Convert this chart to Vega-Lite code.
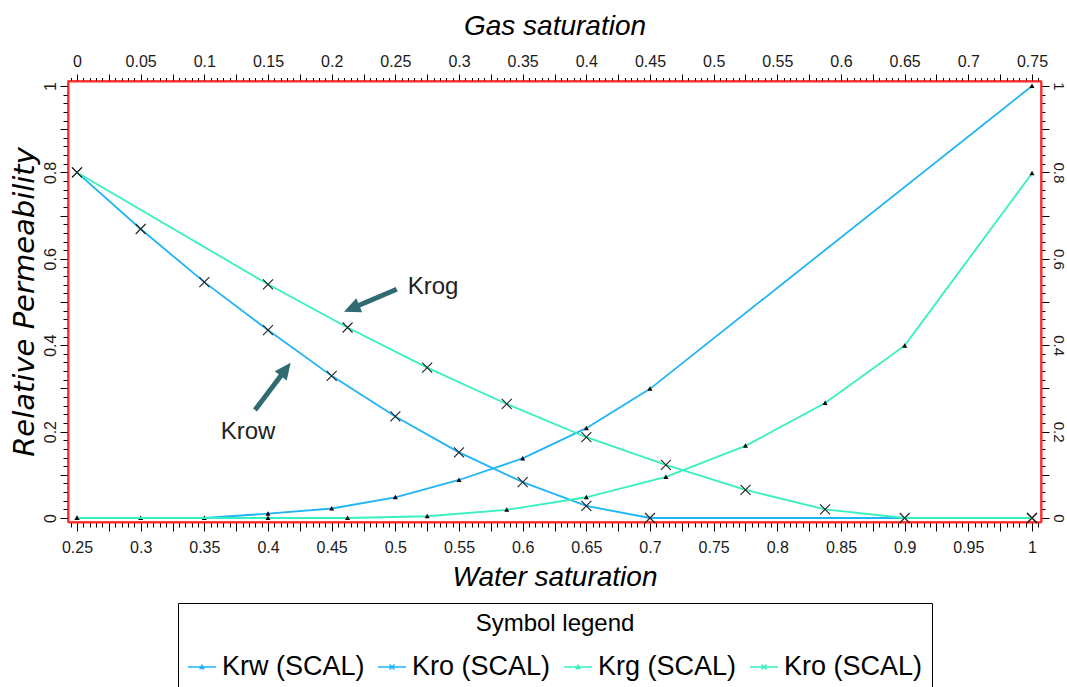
{
  "$schema": "https://vega.github.io/schema/vega-lite/v6.json",
  "width": 973,
  "height": 441,
  "autosize": {"type": "none"},
  "padding": {"left": 68, "top": 81, "right": 26, "bottom": 165},
  "background": "white",
  "config": {
    "view": {"stroke": "#ff2a2a", "strokeWidth": 1.5},
    "axis": {"grid": false, "tickColor": "black", "tickWidth": 1, "domainColor": "#ff2a2a", "domainWidth": 2, "labelColor": "#1a1a1a", "labelOverlap": false, "labelBound": false, "labelFlush": false, "titleColor": "black", "titleFontWeight": "normal", "labelFont": "Liberation Sans, Arial, sans-serif"},
    "legend": {"labelFont": "Liberation Sans, Arial, sans-serif", "titleFont": "Liberation Sans, Arial, sans-serif"}
  },
  "datasets": {
    "water": [
      {"series": "Krw", "sw": 0.25, "kr": 0},
      {"series": "Krw", "sw": 0.3, "kr": 0},
      {"series": "Krw", "sw": 0.35, "kr": 0},
      {"series": "Krw", "sw": 0.4, "kr": 0.01},
      {"series": "Krw", "sw": 0.45, "kr": 0.022},
      {"series": "Krw", "sw": 0.5, "kr": 0.048},
      {"series": "Krw", "sw": 0.55, "kr": 0.088},
      {"series": "Krw", "sw": 0.6, "kr": 0.138},
      {"series": "Krw", "sw": 0.65, "kr": 0.208},
      {"series": "Krw", "sw": 0.7, "kr": 0.299},
      {"series": "Krw", "sw": 1.0, "kr": 1.0},
      {"series": "Kro_w", "sw": 0.25, "kr": 0.8},
      {"series": "Kro_w", "sw": 0.3, "kr": 0.669},
      {"series": "Kro_w", "sw": 0.35, "kr": 0.546},
      {"series": "Kro_w", "sw": 0.4, "kr": 0.435},
      {"series": "Kro_w", "sw": 0.45, "kr": 0.329},
      {"series": "Kro_w", "sw": 0.5, "kr": 0.235},
      {"series": "Kro_w", "sw": 0.55, "kr": 0.152},
      {"series": "Kro_w", "sw": 0.6, "kr": 0.083},
      {"series": "Kro_w", "sw": 0.65, "kr": 0.028},
      {"series": "Kro_w", "sw": 0.7, "kr": 0},
      {"series": "Kro_w", "sw": 1.0, "kr": 0}
    ],
    "gas": [
      {"series": "Krg", "sg": 0, "kr": 0},
      {"series": "Krg", "sg": 0.15, "kr": 0},
      {"series": "Krg", "sg": 0.2125, "kr": 0},
      {"series": "Krg", "sg": 0.275, "kr": 0.004},
      {"series": "Krg", "sg": 0.3375, "kr": 0.019},
      {"series": "Krg", "sg": 0.4, "kr": 0.048},
      {"series": "Krg", "sg": 0.4625, "kr": 0.095},
      {"series": "Krg", "sg": 0.525, "kr": 0.167},
      {"series": "Krg", "sg": 0.5875, "kr": 0.266},
      {"series": "Krg", "sg": 0.65, "kr": 0.399},
      {"series": "Krg", "sg": 0.75, "kr": 0.798},
      {"series": "Kro_g", "sg": 0, "kr": 0.8},
      {"series": "Kro_g", "sg": 0.15, "kr": 0.541},
      {"series": "Kro_g", "sg": 0.2125, "kr": 0.441},
      {"series": "Kro_g", "sg": 0.275, "kr": 0.348},
      {"series": "Kro_g", "sg": 0.3375, "kr": 0.264},
      {"series": "Kro_g", "sg": 0.4, "kr": 0.187},
      {"series": "Kro_g", "sg": 0.4625, "kr": 0.123},
      {"series": "Kro_g", "sg": 0.525, "kr": 0.065},
      {"series": "Kro_g", "sg": 0.5875, "kr": 0.02},
      {"series": "Kro_g", "sg": 0.65, "kr": 0},
      {"series": "Kro_g", "sg": 0.75, "kr": 0}
    ],
    "notes": [
      {"label": "Krog", "sw": 0.5296, "kr": 0.5347},
      {"label": "Krow", "sw": 0.3843, "kr": 0.199}
    ],
    "arrows": [
      {"name": "Krog", "sw": 0.5011, "kr": 0.5294, "sw2": 0.4669, "kr2": 0.4866},
      {"name": "Krow", "sw": 0.3898, "kr": 0.25, "sw2": 0.4131, "kr2": 0.341}
    ],
    "heads": [
      {"name": "Krog", "sw": 0.4597, "kr": 0.4775},
      {"name": "Krow", "sw": 0.4178, "kr": 0.3595}
    ]
  },
  "resolve": {"scale": {"x": "independent"}, "axis": {"x": "independent", "y": "independent"}},
  "layer": [
    {
      "encoding": {
        "x": {"field": "sw", "type": "quantitative",
          "scale": {"domain": [0.24293, 1.00707], "nice": false, "zero": false},
          "axis": {"orient": "bottom", "tickCount": 150,
            "labelExpr": "round(datum.value*1000) % 50 === 0 ? format(datum.value, '~g') : ''",
            "tickSize": {"condition": {"test": "round(datum.value*1000) % 25 === 0", "value": 9}, "value": 5},
            "labelFontSize": 16, "labelPadding": 8,
            "title": "Water saturation", "titleFont": "Liberation Sans", "titleFontSize": 28, "titleFontStyle": "italic", "titlePadding": 8}},
        "y": {"field": "kr", "type": "quantitative",
          "scale": {"domain": [-0.00926, 1.0116], "nice": false, "zero": false},
          "axis": {"orient": "left", "tickCount": 50,
            "labelExpr": "round(datum.value*100) % 20 === 0 ? format(datum.value, '~g') : ''",
            "tickSize": {"condition": {"test": "round(datum.value*100) % 10 === 0", "value": 8}, "value": 5},
            "labelAngle": -90, "labelAlign": "center", "labelBaseline": "bottom",
            "labelFontSize": 16, "labelPadding": 2,
            "title": "Relative Permeability", "titleFont": "DejaVu Sans", "titleFontSize": 29, "titleFontStyle": "italic", "titlePadding": 3}}
      },
      "layer": [
        {"data": {"name": "water"},
          "mark": {"type": "line", "strokeWidth": 1.8, "color": "#1fb3f7"},
          "encoding": {"detail": {"field": "series", "type": "nominal"}}},
        {"data": {"name": "water"},
          "transform": [{"filter": "datum.series === 'Krw'"}],
          "mark": {"type": "point", "shape": "M0,-1L1,0.8L-1,0.8Z", "filled": true, "color": "black", "size": 25, "opacity": 1}},
        {"data": {"name": "water"},
          "transform": [{"filter": "datum.series === 'Kro_w'"}],
          "mark": {"type": "point", "shape": "M-1,-1L1,1M-1,1L1,-1", "filled": false, "color": "#222222", "strokeWidth": 1.1, "size": 100, "opacity": 1}},
        {"data": {"name": "water"},
          "mark": {"type": "point", "filled": false, "size": 784, "strokeWidth": 1.5, "opacity": 0},
          "encoding": {
            "color": {"field": "series", "type": "nominal",
              "scale": {"domain": ["Krw", "Kro_w", "Krg", "Kro_g"], "range": ["#1fb3f7", "#1fb3f7", "#36f0bf", "#36f0bf"]},
              "legend": {"orient": "none", "legendX": 110, "legendY": 522, "direction": "horizontal", "columns": 4,
                "title": "Symbol legend", "titleAnchor": "middle", "titleFontSize": 24, "titleFontWeight": "normal", "titleColor": "black", "titlePadding": 16, "titleLimit": 600,
                "labelFontSize": 27, "labelColor": "black", "labelOffset": 5, "labelLimit": 300,
                "labelExpr": "datum.value === 'Krw' ? 'Krw (SCAL)' : datum.value === 'Krg' ? 'Krg (SCAL)' : 'Kro (SCAL)'",
                "symbolSize": 784, "symbolStrokeWidth": 1.5, "symbolOpacity": 1, "columnPadding": 10, "padding": 9, "strokeColor": "black", "fillColor": "white"}},
            "shape": {"field": "series", "type": "nominal",
              "scale": {"domain": ["Krw", "Kro_w", "Krg", "Kro_g"], "range": ["M-1,0L1,0M-0.12,0.1L0,-0.12L0.12,0.1Z", "M-1,0L1,0M-0.18,-0.18L0.18,0.18M-0.18,0.18L0.18,-0.18", "M-1,0L1,0M-0.12,0.1L0,-0.12L0.12,0.1Z", "M-1,0L1,0M-0.18,-0.18L0.18,0.18M-0.18,0.18L0.18,-0.18"]},
              "legend": {"orient": "none", "legendX": 110, "legendY": 522, "direction": "horizontal", "columns": 4,
                "title": "Symbol legend", "titleAnchor": "middle", "titleFontSize": 24, "titleFontWeight": "normal", "titleColor": "black", "titlePadding": 16, "titleLimit": 600,
                "labelFontSize": 27, "labelColor": "black", "labelOffset": 5, "labelLimit": 300,
                "labelExpr": "datum.value === 'Krw' ? 'Krw (SCAL)' : datum.value === 'Krg' ? 'Krg (SCAL)' : 'Kro (SCAL)'",
                "symbolSize": 784, "symbolStrokeWidth": 1.5, "symbolOpacity": 1, "columnPadding": 10, "padding": 9, "strokeColor": "black", "fillColor": "white"}}
          }},
        {"data": {"name": "arrows"},
          "mark": {"type": "rule", "strokeWidth": 5, "color": "#2f6b70", "strokeCap": "butt"},
          "encoding": {"x2": {"field": "sw2"}, "y2": {"field": "kr2"}}},
        {"data": {"name": "heads"},
          "transform": [{"filter": "datum.name === 'Krog'"}],
          "mark": {"type": "point", "shape": "M0,0L0.5,1.1L-0.5,1.1Z", "filled": true, "color": "#2f6b70", "size": 900, "angle": 247, "opacity": 1}},
        {"data": {"name": "heads"},
          "transform": [{"filter": "datum.name === 'Krow'"}],
          "mark": {"type": "point", "shape": "M0,0L0.5,1.1L-0.5,1.1Z", "filled": true, "color": "#2f6b70", "size": 900, "angle": 37, "opacity": 1}},
        {"data": {"name": "notes"},
          "mark": {"type": "text", "font": "Liberation Sans", "fontSize": 24, "color": "#222222", "align": "center", "baseline": "middle"},
          "encoding": {"text": {"field": "label"}}}
      ]
    },
    {
      "data": {"name": "gas"},
      "encoding": {
        "x": {"field": "sg", "type": "quantitative",
          "scale": {"domain": [-0.00707, 0.75707], "nice": false, "zero": false},
          "axis": {"orient": "top", "tickCount": 150,
            "labelExpr": "round(datum.value*1000) % 50 === 0 && datum.value > -0.001 ? format(datum.value, '~g') : ''",
            "tickSize": {"condition": {"test": "round(datum.value*1000) % 25 === 0", "value": 7}, "value": 3.5},
            "labelFontSize": 16, "labelPadding": 5,
            "title": "Gas saturation", "titleFont": "Liberation Sans", "titleFontSize": 28, "titleFontStyle": "italic", "titlePadding": 13}},
        "y": {"field": "kr", "type": "quantitative",
          "scale": {"domain": [-0.00926, 1.0116], "nice": false, "zero": false},
          "axis": {"orient": "right", "tickCount": 50,
            "labelExpr": "round(datum.value*100) % 20 === 0 ? format(datum.value, '~g') : ''",
            "tickSize": {"condition": {"test": "round(datum.value*100) % 10 === 0", "value": 8}, "value": 4},
            "labelAngle": 90, "labelAlign": "center", "labelBaseline": "bottom",
            "labelFontSize": 15, "labelPadding": 1, "title": null}}
      },
      "layer": [
        {"mark": {"type": "line", "strokeWidth": 1.8, "color": "#36f0bf"},
          "encoding": {"detail": {"field": "series", "type": "nominal"}}},
        {"transform": [{"filter": "datum.series === 'Krg'"}],
          "mark": {"type": "point", "shape": "M0,-1L1,0.8L-1,0.8Z", "filled": true, "color": "black", "size": 25, "opacity": 1}},
        {"transform": [{"filter": "datum.series === 'Kro_g'"}],
          "mark": {"type": "point", "shape": "M-1,-1L1,1M-1,1L1,-1", "filled": false, "color": "#222222", "strokeWidth": 1.1, "size": 100, "opacity": 1}}
      ]
    }
  ]
}
